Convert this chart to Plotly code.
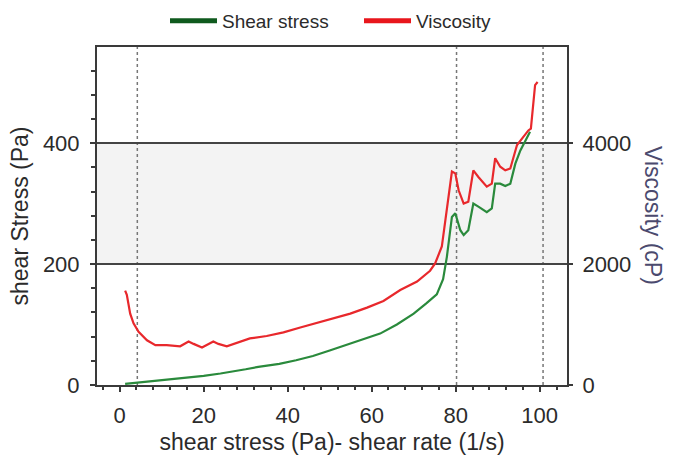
import plotly.graph_objects as go

# Shear stress (Pa) vs shear rate (1/s)
shear_rate_stress = [1.3, 4.1, 8, 12, 16.8, 20, 24, 27, 30, 33, 38, 42, 46, 50, 54, 58, 62, 66,
                     70, 73, 75.5, 77.0, 77.9, 79.1, 79.9, 81.1, 81.9, 83.0, 84.2, 85.4, 87.4,
                     88.6, 89.4, 90.6, 91.8, 93.0, 94.2, 95.4, 96.7, 97.7]
shear_stress = [2, 4, 6, 9, 13, 15, 19, 22, 26, 30, 35, 41, 48, 57, 66, 75, 85, 100,
                118, 135, 150, 175, 212, 278, 284, 256, 248, 256, 300, 295, 286,
                292, 333, 333, 329, 333, 366, 388, 405, 419]

# Viscosity (cP) vs shear rate (1/s)
shear_rate_visc = [1.3, 1.7, 2.5, 3.3, 4.5, 6.5, 8.5, 11.2, 14.4, 16.4, 17.6, 19.6, 22.3, 23.5,
                   25.5, 28, 31, 35, 39, 43, 47, 50.9, 54.9, 58.9, 62.8, 66.8, 70.8, 73.9, 75.1,
                   76.7, 77.9, 79.1, 79.9, 80.7, 81.9, 83.0, 84.2, 85.4, 87.4, 88.6, 89.4, 90.6,
                   91.8, 93.0, 94.6, 96.1, 97.3, 97.9, 98.5, 98.9, 99.5]
viscosity = [1560, 1490, 1180, 1020, 880, 740, 660, 660, 640, 720, 680, 620, 720, 680,
             640, 700, 770, 810, 870, 950, 1030, 1100, 1180, 1280, 1390, 1570, 1710, 1890, 2010,
             2290, 2890, 3530, 3500, 3220, 3000, 3030, 3550, 3440, 3280, 3330, 3750, 3610,
             3550, 3580, 3970, 4100, 4210, 4240, 4660, 4960, 5010]

x_ticks = [0, 20, 40, 60, 80, 100]
y_ticks = [0, 200, 400]
y2_ticks = [0, 2000, 4000]
marker_lines_x = [4.2, 80.2, 100.8]
band_range = [200, 400]

FONT = "Liberation Sans, Arial, sans-serif"
TXT = "#2b2b2b"
AX = "#3a3a3a"

fig = go.Figure()

fig.add_trace(go.Scatter(x=shear_rate_stress, y=shear_stress, mode="lines",
                         line=dict(color="#2a8a3c", width=2.2), showlegend=False, yaxis="y"))
fig.add_trace(go.Scatter(x=shear_rate_visc, y=viscosity, mode="lines",
                         line=dict(color="#e8282c", width=2.2), showlegend=False, yaxis="y2"))

# legend entries (thicker lines as in the reference legend)
fig.add_trace(go.Scatter(x=[None], y=[None], mode="lines", name="Shear stress",
                         line=dict(color="#0f5a1e", width=5)))
fig.add_trace(go.Scatter(x=[None], y=[None], mode="lines", name="Viscosity",
                         line=dict(color="#e8161c", width=5)))

shapes = [dict(type="rect", xref="paper", x0=0, x1=1, yref="y", y0=band_range[0], y1=band_range[1],
               fillcolor="#f3f3f3", line=dict(width=0), layer="below")]
for xv in marker_lines_x:
    shapes.append(dict(type="line", xref="x", x0=xv, x1=xv, yref="paper", y0=0, y1=1,
                       line=dict(color="#777777", width=1.5, dash="dot"), layer="below"))

fig.update_layout(
    width=677, height=456,
    margin=dict(l=97, r=110, t=47, b=71, autoexpand=False),
    paper_bgcolor="white", plot_bgcolor="white",
    font=dict(family=FONT, color=TXT, size=22),
    shapes=shapes,
    legend=dict(orientation="h", x=(165 - 97) / 470, xanchor="left", y=1.077, yanchor="middle",
                font=dict(size=19, color=TXT), itemwidth=47, entrywidth=132,
                entrywidthmode="pixels", bgcolor="rgba(0,0,0,0)"),
    xaxis=dict(range=[-5.4, 106.5], tickvals=x_ticks, ticks="outside", ticklen=5,
               tickwidth=1.5, tickcolor=AX, showline=True, linecolor=AX, linewidth=2,
               mirror=True, showgrid=False, zeroline=False, automargin=False,
               minor=dict(dtick=4, tick0=0, ticks="outside", ticklen=3, tickcolor=AX),
               tickfont=dict(size=22, color=TXT), ticklabelstandoff=5,
               title=dict(text="shear stress (Pa)- shear rate (1/s)", font=dict(size=23, color=TXT),
                          standoff=6)),
    yaxis=dict(range=[0, 559], tickvals=y_ticks, ticks="outside", ticklen=5, tickwidth=2,
               tickcolor=AX, showline=True, linecolor=AX, linewidth=2, automargin=False,
               showgrid=True, gridcolor="#444444", gridwidth=2, zeroline=False,
               minor=dict(dtick=40, tick0=0, ticks="outside", ticklen=4, tickcolor=AX, showgrid=False),
               tickfont=dict(size=22, color=TXT), ticklabelstandoff=6,
               title=dict(text="shear Stress (Pa)", font=dict(size=23, color=TXT), standoff=8)),
    yaxis2=dict(range=[0, 5590], tickvals=y2_ticks, overlaying="y", side="right",
                ticks="outside", ticklen=4, tickwidth=2, tickcolor=AX, showline=True,
                linecolor=AX, linewidth=2, showgrid=False, zeroline=False, automargin=False,
                tickfont=dict(size=22, color=TXT), ticklabelstandoff=5),
    annotations=[dict(text="Viscosity (cP)", xref="paper", yref="paper", x=1.183, y=0.503,
                      textangle=90, showarrow=False, font=dict(size=23, color="#4b4a6e"),
                      xanchor="center", yanchor="middle")],
)

fig.write_html("out.html")
